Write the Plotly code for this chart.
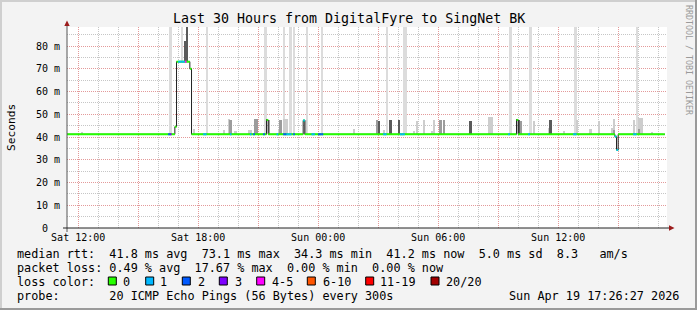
import pandas as pd
import plotly.graph_objects as go

# ---------------- data ----------------
TITLE = "Last 30 Hours from DigitalFyre to SingNet BK"
X_START = "2026-04-18 11:26:27"
X_END = "2026-04-19 17:26:27"
Y_MAX = 88.35

# median RTT (ms), step values starting at each time (5 min samples)
MEDIAN_TIME = [
    "2026-04-18 11:25", "2026-04-18 16:50", "2026-04-18 16:55", "2026-04-18 17:35",
    "2026-04-18 17:40", "2026-04-18 21:25", "2026-04-18 21:30", "2026-04-18 23:15",
    "2026-04-18 23:20", "2026-04-19 09:55", "2026-04-19 10:00", "2026-04-19 14:50",
    "2026-04-19 14:55", "2026-04-19 15:00", "2026-04-19 17:15",
]
MEDIAN_MS = [41.2, 44.5, 73.1, 70.0, 41.2, 47.5, 41.2, 47.3, 41.2, 47.5, 41.2, 40.2, 34.3, 41.2, 41.2]

# samples with packet loss (number of lost pings out of 20)
LOSS_TIME = [
    "2026-04-18 16:30", "2026-04-18 16:35", "2026-04-18 17:00", "2026-04-18 17:05",
    "2026-04-18 17:10", "2026-04-18 17:15", "2026-04-18 17:20", "2026-04-18 18:15",
    "2026-04-18 18:20", "2026-04-18 19:35", "2026-04-18 20:35", "2026-04-18 20:45",
    "2026-04-18 21:15", "2026-04-18 21:55", "2026-04-18 22:15", "2026-04-18 22:20",
    "2026-04-18 22:25", "2026-04-18 22:30", "2026-04-18 22:35", "2026-04-18 22:45",
    "2026-04-18 23:15", "2026-04-18 23:40", "2026-04-18 23:45", "2026-04-19 00:00",
    "2026-04-19 00:05", "2026-04-19 00:10", "2026-04-19 03:15", "2026-04-19 03:20",
    "2026-04-19 04:05", "2026-04-19 04:10", "2026-04-19 04:15", "2026-04-19 09:30",
    "2026-04-19 10:30", "2026-04-19 12:45", "2026-04-19 12:50", "2026-04-19 14:50",
    "2026-04-19 14:55", "2026-04-19 15:45", "2026-04-19 15:50",
]
LOSS_PINGS = [2, 3, 1, 1, 1, 1, 4, 1, 1, 1, 1, 2, 2, 1, 2, 2, 1, 1, 1, 2,
              1, 1, 1, 2, 2, 2, 1, 1, 1, 1, 1, 1, 1, 1, 1, 1, 1, 1, 1]

# smoke: samples whose slowest pings go off the top of the scale
SMOKE_FULL_TIME = [
    "2026-04-18 16:35", "2026-04-18 17:10", "2026-04-18 18:25", "2026-04-18 21:20",
    "2026-04-18 22:15", "2026-04-18 22:35", "2026-04-18 22:45", "2026-04-18 23:25",
    "2026-04-19 00:10", "2026-04-19 03:25", "2026-04-19 04:15", "2026-04-19 04:20",
    "2026-04-19 09:35", "2026-04-19 10:35", "2026-04-19 12:50", "2026-04-19 15:55",
]
# smoke: sparse ping spread (light), medium and dense (dark); value = top of smoke in ms
SMOKE_LIGHT_TIME = [
    "2026-04-18 12:10", "2026-04-18 17:45", "2026-04-18 19:15", "2026-04-18 19:30",
    "2026-04-18 19:50", "2026-04-18 20:30", "2026-04-18 20:35", "2026-04-18 22:00",
    "2026-04-18 22:15", "2026-04-18 22:20", "2026-04-18 22:25", "2026-04-18 23:20",
    "2026-04-19 01:45", "2026-04-19 03:15", "2026-04-19 04:45", "2026-04-19 04:55",
    "2026-04-19 05:15", "2026-04-19 05:40", "2026-04-19 05:45", "2026-04-19 08:30",
    "2026-04-19 08:35", "2026-04-19 08:40", "2026-04-19 10:45", "2026-04-19 11:30",
    "2026-04-19 12:15", "2026-04-19 12:55", "2026-04-19 13:35", "2026-04-19 14:00",
    "2026-04-19 14:40", "2026-04-19 14:45", "2026-04-19 15:45", "2026-04-19 16:00",
    "2026-04-19 16:05", "2026-04-19 16:10", "2026-04-19 16:40",
]
SMOKE_LIGHT_TOP = [42.3, 43.5, 43.0, 47.8, 42.5, 43.0, 43.0, 43.0, 48.0, 48.0, 48.0, 47.5,
                   43.5, 43.0, 42.5, 47.0, 47.5, 42.5, 47.5, 48.6, 48.6, 48.6, 47.0, 44.0,
                   42.5, 47.5, 43.5, 47.0, 44.0, 48.0, 47.5, 48.5, 48.5, 48.5, 42.0]
SMOKE_MID_TIME = [
    "2026-04-18 19:35", "2026-04-18 20:50", "2026-04-18 20:55", "2026-04-18 21:30",
    "2026-04-18 22:05", "2026-04-19 02:55", "2026-04-19 06:05", "2026-04-19 06:15",
    "2026-04-19 10:05", "2026-04-19 14:45", "2026-04-19 16:00",
]
SMOKE_MID_TOP = [47.5, 48.0, 48.0, 47.5, 47.5, 47.5, 47.5, 47.5, 47.0, 43.0, 43.5]
SMOKE_DARK_TIME = [
    "2026-04-18 17:20", "2026-04-18 17:25", "2026-04-18 21:25", "2026-04-18 23:15",
    "2026-04-19 03:00", "2026-04-19 03:35", "2026-04-19 04:00", "2026-04-19 07:35",
    "2026-04-19 09:55", "2026-04-19 10:00", "2026-04-19 11:35",
]
SMOKE_DARK_TOP = [82.0, 90.0, 48.0, 47.5, 47.0, 47.5, 47.5, 47.0, 47.5, 47.5, 47.5]

LOSS_LABELS = ["0", "1", "2", "3", "4-5", "6-10", "11-19", "20/20"]
LOSS_COLORS = ["#26ff00", "#00b8ff", "#0059ff", "#7e00ff", "#ff00ff", "#ff5500", "#ff0000", "#a10000"]

X_TICK_TIMES = ["2026-04-18 12:00", "2026-04-18 18:00", "2026-04-19 00:00",
                "2026-04-19 06:00", "2026-04-19 12:00"]
X_TICK_LABELS = ["Sat 12:00", "Sat 18:00", "Sun 00:00", "Sun 06:00", "Sun 12:00"]
Y_TICKS = [0, 10, 20, 30, 40, 50, 60, 70, 80]
Y_TICK_LABELS = ["0  ", "10 m", "20 m", "30 m", "40 m", "50 m", "60 m", "70 m", "80 m"]

RTT_LINE = "median rtt:  41.8 ms avg  73.1 ms max  34.3 ms min  41.2 ms now  5.0 ms sd  8.3   am/s"
LOSS_LINE = "packet loss: 0.49 % avg  17.67 % max  0.00 % min  0.00 % now"
PROBE_LINE = "probe:       20 ICMP Echo Pings (56 Bytes) every 300s"
STAMP = "Sun Apr 19 17:26:27 2026"
WATERMARK = "RRDTOOL / TOBI OETIKER"

# ---------------- helpers ----------------
W, H = 697, 310
PL, PR, PT, PB = 67, 667, 27, 228
MONO = "DejaVu Sans Mono"
STEP = pd.Timedelta(minutes=5)
STEP_MS = 300000


def px(x):
    return (x - PL) / (PR - PL)


def py(y):
    return (PB - y) / (PB - PT)


def nb(s):
    return s.replace(" ", "\u00a0")


med = pd.Series(MEDIAN_MS, index=pd.to_datetime(MEDIAN_TIME))


def median_at(t):
    t = pd.Timestamp(t)
    return float(med[med.index <= t].iloc[-1])


def loss_level(n):
    if n <= 3:
        return n
    if n <= 5:
        return 4
    if n <= 10:
        return 5
    if n <= 19:
        return 6
    return 7


fig = go.Figure()


def smoke(times, tops, color):
    bases = [median_at(t) - 0.3 for t in times]
    fig.add_trace(go.Bar(
        x=pd.to_datetime(times), y=[tp - b for tp, b in zip(tops, bases)], base=bases,
        width=STEP_MS, offset=0, marker=dict(color=color, line=dict(width=0)),
        hoverinfo="skip"))


smoke(SMOKE_FULL_TIME, [Y_MAX + 5] * len(SMOKE_FULL_TIME), "#dcdcdc")
smoke(SMOKE_LIGHT_TIME, SMOKE_LIGHT_TOP, "#cdcdcd")
smoke(SMOKE_MID_TIME, SMOKE_MID_TOP, "#9c9c9c")
smoke(SMOKE_DARK_TIME, SMOKE_DARK_TOP, "#5a5a5a")

# median: dark step (vertical transitions) + coloured horizontal pieces
end_t = pd.Timestamp(MEDIAN_TIME[-1]) + STEP
fig.add_trace(go.Scatter(
    x=list(pd.to_datetime(MEDIAN_TIME)) + [end_t], y=MEDIAN_MS + [MEDIAN_MS[-1]],
    mode="lines", line=dict(color="#222222", width=1, shape="hv"), hoverinfo="skip"))

gx, gy = [], []
mts = list(pd.to_datetime(MEDIAN_TIME)) + [end_t]
for i, v in enumerate(MEDIAN_MS):
    gx += [mts[i], mts[i + 1], None]
    gy += [v, v, None]
fig.add_trace(go.Scatter(x=gx, y=gy, mode="lines",
                         line=dict(color=LOSS_COLORS[0], width=2), hoverinfo="skip"))

seg = {}
for t, n in zip(LOSS_TIME, LOSS_PINGS):
    lv = loss_level(n)
    t0 = pd.Timestamp(t)
    v = median_at(t0)
    sx, sy = seg.setdefault(lv, ([], []))
    sx += [t0, t0 + STEP, None]
    sy += [v, v, None]
for lv, (sx, sy) in seg.items():
    fig.add_trace(go.Scatter(x=sx, y=sy, mode="lines",
                             line=dict(color=LOSS_COLORS[lv], width=2), hoverinfo="skip"))

# ---------------- axes ----------------
grid_times = pd.date_range("2026-04-18 12:00", "2026-04-19 15:00", freq="3h")
lab = dict(zip(pd.to_datetime(X_TICK_TIMES), X_TICK_LABELS))
fig.update_xaxes(
    type="date", range=[X_START, X_END], tickmode="array",
    tickvals=list(grid_times), ticktext=[lab.get(t, "") for t in grid_times],
    showgrid=True, gridcolor="#e39a9a", griddash="1px,1px", gridwidth=1,
    minor=dict(dtick=3600000, tick0="2026-04-18 00:00", showgrid=True,
               gridcolor="#c6c6c6", griddash="1px,1px", gridwidth=1),
    showline=False, zeroline=False, ticks="", tickangle=0, ticklabelstandoff=2,
    tickfont=dict(family=MONO, size=10, color="#000"), fixedrange=True)
fig.update_yaxes(
    range=[0, Y_MAX], tickmode="array", tickvals=Y_TICKS,
    ticktext=[nb(s) for s in Y_TICK_LABELS],
    showgrid=True, gridcolor="#e39a9a", griddash="1px,1px", gridwidth=1,
    minor=dict(dtick=5, tick0=0, showgrid=True, gridcolor="#c6c6c6",
               griddash="1px,1px", gridwidth=1),
    showline=False, zeroline=False, ticks="", ticklabelstandoff=6,
    tickfont=dict(family=MONO, size=10, color="#000"), fixedrange=True)

shapes = []
# frame shading
shapes.append(dict(type="rect", xref="paper", yref="paper", x0=px(0), x1=px(W), y0=py(0), y1=py(2),
                   fillcolor="#cfcfcf", line=dict(width=0), layer="above"))
shapes.append(dict(type="rect", xref="paper", yref="paper", x0=px(0), x1=px(2), y0=py(0), y1=py(H),
                   fillcolor="#cfcfcf", line=dict(width=0), layer="above"))
shapes.append(dict(type="rect", xref="paper", yref="paper", x0=px(W - 2), x1=px(W), y0=py(0), y1=py(H),
                   fillcolor="#9a9a9a", line=dict(width=0), layer="above"))
shapes.append(dict(type="rect", xref="paper", yref="paper", x0=px(0), x1=px(W), y0=py(H - 2), y1=py(H),
                   fillcolor="#9a9a9a", line=dict(width=0), layer="above"))
# axes + arrows
shapes.append(dict(type="line", xref="paper", yref="paper", x0=px(67), x1=px(67), y0=py(232), y1=py(24),
                   line=dict(color="#555555", width=1), layer="above"))
shapes.append(dict(type="line", xref="paper", yref="paper", x0=px(63), x1=px(670), y0=py(228), y1=py(228),
                   line=dict(color="#222222", width=1), layer="above"))
shapes.append(dict(type="path", xref="paper", yref="paper",
                   path=f"M {px(64.3)} {py(26)} L {px(69.7)} {py(26)} L {px(67)} {py(20.5)} Z",
                   fillcolor="#9b1b1b", line=dict(width=0), layer="above"))
shapes.append(dict(type="path", xref="paper", yref="paper",
                   path=f"M {px(669)} {py(225.3)} L {px(669)} {py(230.7)} L {px(674.5)} {py(228)} Z",
                   fillcolor="#9b1b1b", line=dict(width=0), layer="above"))

# loss colour legend boxes
BOX_X = [108.3, 145.7, 182.3, 219.3, 256.7, 307.3, 365.7, 431.0]
TXT_X = [121.7, 159.0, 196.7, 234.0, 270.7, 321.7, 379.3, 445.0]
for bx, col in zip(BOX_X, LOSS_COLORS):
    shapes.append(dict(type="rect", xref="paper", yref="paper", x0=px(bx), x1=px(bx + 8),
                       y0=py(285), y1=py(277), fillcolor=col, line=dict(color="#000", width=1),
                       layer="above"))

ann = []


def text(s, x, y, size=11.8, xanchor="left", color="#000", angle=0):
    ann.append(dict(text=nb(s), x=px(x), y=py(y), xref="paper", yref="paper",
                    xanchor=xanchor, yanchor="middle", showarrow=False, textangle=angle,
                    font=dict(family=MONO, size=size, color=color), borderpad=0))


text(TITLE, 348.5, 19, size=13.3, xanchor="center")
text("Seconds", 11, 128, size=11.2, xanchor="center", angle=-90)
text(WATERMARK, 689, 60, size=8.3, xanchor="center", color="#9a9a9a", angle=90)
text(RTT_LINE, 16, 254)
text(LOSS_LINE, 16, 268)
text("loss color:", 16, 282)
for tx, lb in zip(TXT_X, LOSS_LABELS):
    text(lb, tx, 282)
text(PROBE_LINE, 16, 296)
text(STAMP, 680, 296, xanchor="right")

fig.update_layout(
    width=W, height=H,
    margin=dict(l=PL, r=W - PR, t=PT, b=H - PB, pad=0, autoexpand=False),
    paper_bgcolor="#f3f3f3", plot_bgcolor="#ffffff",
    showlegend=False, barmode="overlay", bargap=0,
    shapes=shapes, annotations=ann,
    font=dict(family=MONO),
)

fig.write_html("out.html")
